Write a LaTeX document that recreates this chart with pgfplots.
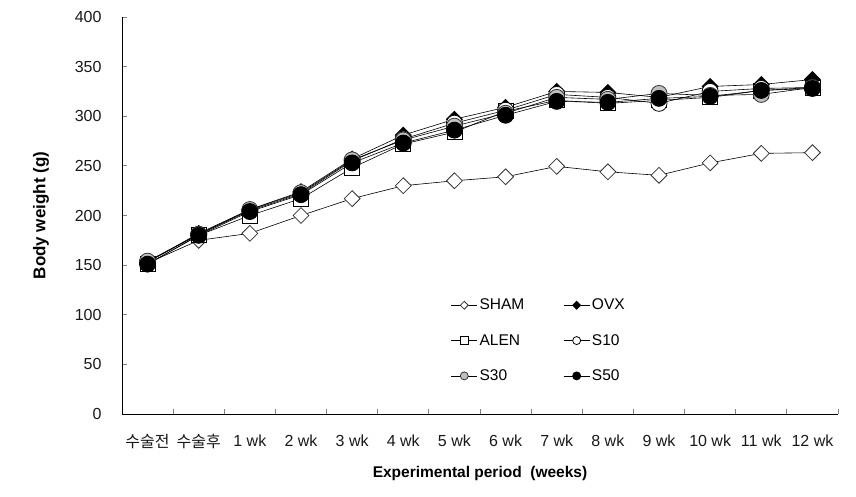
\documentclass[border=0pt]{standalone}
\usepackage{pgfplots}
\pgfplotsset{compat=1.18}
\usepackage{fontspec}
\setmainfont{Liberation Sans}
\newfontfamily\kr{Noto Sans CJK KR}
\definecolor{grey30}{RGB}{192,192,192}
\begin{document}
\begin{tikzpicture}
\begin{axis}[
  scale only axis, width=716pt, height=397pt,
  xmin=-0.5, xmax=13.5, ymin=0, ymax=400,
  axis lines=left, axis line style={-, line width=0.8pt},
  xtick={0,...,13},
  xticklabels={{\kr 수술전},{\kr 수술후},1 wk,2 wk,3 wk,4 wk,5 wk,6 wk,7 wk,8 wk,9 wk,10 wk,11 wk,12 wk},
  major x tick style={draw=none},
  minor xtick={-0.5,0.5,...,13.5},
  minor tick length=5pt,
  minor x tick style={line width=0.8pt},
  ytick={0,50,...,400},
  major tick length=5pt,
  tick align=inside,
  ytick style={line width=0.8pt},
  /pgf/number format/assume math mode=true,
  tick label style={font=\fontsize{16}{18}\selectfont, text=black!90},
  xticklabel style={yshift=-17pt},
  yticklabel style={xshift=-17pt},
  xlabel={\bfseries Experimental period\ \ (weeks)},
  ylabel={\bfseries Body weight (g)},
  xlabel style={font=\fontsize{15.5}{17}\selectfont, yshift=-10pt},
  ylabel style={font=\fontsize{17}{19}\selectfont, yshift=19pt},
  legend columns=2,
  legend style={at={(rel axis cs:0.455,0.30)}, anchor=north west, draw=none, fill=none,
    font=\fontsize{15.5}{17}\selectfont, row sep=19pt,
    /tikz/every even column/.append style={column sep=37pt}},
  legend cell align=left,
  legend image code/.code={\draw[#1, every mark/.append style={scale=0.5}, mark repeat=2, mark phase=2] plot coordinates {(0pt,0pt) (13pt,0pt) (26pt,0pt)};},
  every axis plot/.append style={line width=0.6pt, black},
]
\addplot[mark=square*, mark size=5.6pt, mark options={rotate=45, fill=white, draw=black!80, line width=0.8pt}] coordinates {
(0,152) (1,175) (2,182) (3,200) (4,217) (5,230) (6,235) (7,239) (8,249.5) (9,244) (10,240.5) (11,253) (12,262.6) (13,263.3)};
\addlegendentry{SHAM}
\addplot[mark=square*, mark size=5.6pt, mark options={rotate=45, fill=black, draw=black, line width=0.8pt}] coordinates {
(0,153) (1,182) (2,206) (3,224) (4,257) (5,281) (6,297) (7,309) (8,325) (9,324) (10,319) (11,330) (12,332) (13,337)};
\addlegendentry{OVX}
\addplot[mark=square*, mark size=7.5pt, mark options={fill=white, draw=black, line width=0.8pt}] coordinates {
(0,151) (1,180) (2,200) (3,217) (4,248) (5,272) (6,284) (7,305) (8,316) (9,313) (10,316) (11,319) (12,326) (13,329)};
\addlegendentry{ALEN}
\addplot[mark=*, mark size=8pt, mark options={fill=white, draw=black, line width=0.8pt}] coordinates {
(0,153) (1,181) (2,205) (3,222) (4,255) (5,277) (6,293) (7,306) (8,322) (9,319) (10,313) (11,325) (12,328) (13,329)};
\addlegendentry{S10}
\addplot[mark=*, mark size=8pt, mark options={fill=grey30, draw=black!80, line width=0.8pt}] coordinates {
(0,154) (1,181) (2,206) (3,223) (4,256) (5,276) (6,290) (7,303) (8,319) (9,317) (10,323) (11,321) (12,322) (13,329)};
\addlegendentry{S30}
\addplot[mark=*, mark size=8pt, mark options={fill=black, draw=black, line width=0.8pt}] coordinates {
(0,151) (1,180) (2,204) (3,221) (4,253) (5,273) (6,286) (7,301) (8,315) (9,314) (10,318) (11,320) (12,326) (13,328)};
\addlegendentry{S50}
\end{axis}
\path[use as bounding box] (-122pt,-83pt) rectangle (734pt,414pt);
\end{tikzpicture}
\end{document}
